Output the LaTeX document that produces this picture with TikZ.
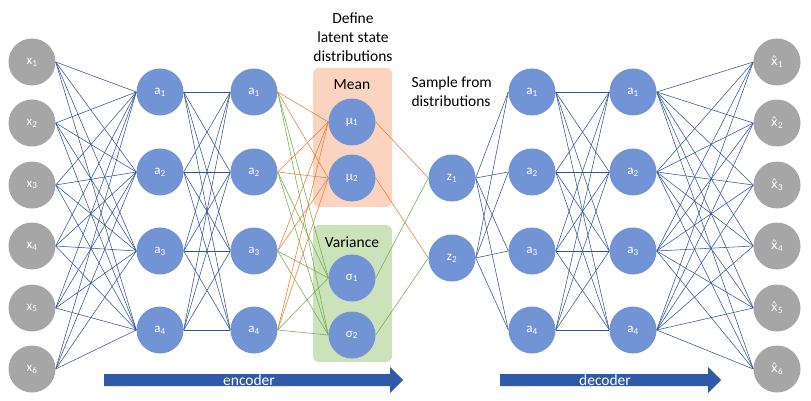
\documentclass[tikz,border=0pt]{standalone}
\usepackage{fontspec}
\setmainfont{Carlito}
\newfontfamily\hatfont{DejaVu Sans}
\usetikzlibrary{backgrounds}
\definecolor{nodegray}{RGB}{166,166,166}
\definecolor{nodeblue}{RGB}{114,147,212}
\definecolor{edgeblue}{RGB}{47,85,151}
\definecolor{edgeorange}{RGB}{237,125,49}
\definecolor{edgegreen}{RGB}{112,173,71}
\definecolor{meanfill}{RGB}{250,212,190}
\definecolor{varfill}{RGB}{203,226,186}
\definecolor{arrowblue}{RGB}{47,90,170}

\begin{document}
\begin{tikzpicture}[x=1pt,y=-1pt,
    neuron/.style={circle,minimum size=47pt,inner sep=0pt,text=white,
      font=\fontsize{13}{13}\selectfont},
    inneuron/.style={neuron,fill=nodegray},
    hidneuron/.style={neuron,fill=nodeblue},
    wire/.style={edgeblue,line width=0.55pt},
    meanwire/.style={edgeorange,line width=0.55pt},
    varwire/.style={edgegreen,line width=0.55pt},
    caption/.style={font=\fontsize{15.5}{19}\selectfont},
    groupbox/.style={rounded corners=6pt},
    arrowlabel/.style={text=white,font=\fontsize{15.5}{15.5}\selectfont}]
    \useasboundingbox (0,0) rectangle (811,401);

    % input and output layers
    \foreach \i/\y in {1/62,2/123,3/185,4/246,5/308,6/369} {
      \node[inneuron] (x\i) at (32,\y) {x\textsubscript{\i}};
      \node[inneuron] (xh\i) at (777,\y) {{\hatfont\fontsize{12}{12}\selectfont x̂}\textsubscript{\i}};
    }
    % hidden layers
    \foreach \i/\y in {1/92,2/172,3/251,4/330} {
      \node[hidneuron] (ea\i) at (160,\y) {a\textsubscript{\i}};
      \node[hidneuron] (eb\i) at (254,\y) {a\textsubscript{\i}};
      \node[hidneuron] (da\i) at (532,\y) {a\textsubscript{\i}};
      \node[hidneuron] (db\i) at (633,\y) {a\textsubscript{\i}};
    }
    % latent state
    \node[hidneuron] (mu1) at (352,122) {μ\textsubscript{1}};
    \node[hidneuron] (mu2) at (352,178) {μ\textsubscript{2}};
    \node[hidneuron] (sg1) at (352,278) {σ\textsubscript{1}};
    \node[hidneuron] (sg2) at (352,335) {σ\textsubscript{2}};
    \node[hidneuron] (z1) at (452,178) {z\textsubscript{1}};
    \node[hidneuron] (z2) at (452,258) {z\textsubscript{2}};

    \node[caption,align=center] (define) at (353,37) {Define\\latent state\\distributions};
    \node[caption,align=left,anchor=west] (sample) at (408,92) {Sample from\\distributions};
    \node[caption] (mean) at (352,85) {Mean};
    \node[caption] (var) at (352,242) {Variance};

    \begin{scope}[on background layer]
      \fill[meanfill,groupbox] (313,68) rectangle (392,207);
      \fill[varfill,groupbox] (313,225) rectangle (392,362);
      \foreach \i in {1,...,6}
        \foreach \j in {1,...,4} {
          \draw[wire] (x\i.east) -- (ea\j.west);
          \draw[wire] (db\j.east) -- (xh\i.west);
        }
      \foreach \i in {1,...,4} {
        \foreach \j in {1,...,4} {
          \draw[wire] (ea\i.east) -- (eb\j.west);
          \draw[wire] (da\i.east) -- (db\j.west);
        }
        \foreach \j in {1,2} {
          \draw[meanwire] (eb\i.east) -- (mu\j.west);
          \draw[varwire] (eb\i.east) -- (sg\j.west);
          \draw[wire] (z\j.east) -- (da\i.west);
        }
      }
      \foreach \j in {1,2} {
        \draw[meanwire] (mu\j.east) -- (z\j.west);
        \draw[varwire] (sg\j.east) -- (z\j.west);
      }
    \end{scope}

    % encoder / decoder arrows
    \fill[arrowblue] (104,374) -- (390,374) -- (390,367) -- (403,380)
      -- (390,393) -- (390,386) -- (104,386) -- cycle;
    \node[arrowlabel] (enc) at (249,380) {encoder};
    \fill[arrowblue] (500,374) -- (708,374) -- (708,367) -- (721,380)
      -- (708,393) -- (708,386) -- (500,386) -- cycle;
    \node[arrowlabel] (dec) at (605,380) {decoder};
\end{tikzpicture}
\end{document}
